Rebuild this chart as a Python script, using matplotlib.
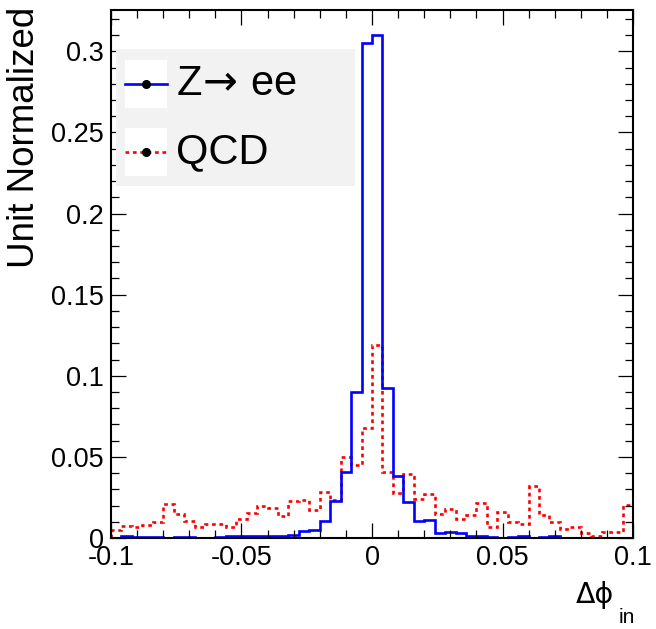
import matplotlib.pyplot as plt
import numpy as np
from matplotlib.patches import Rectangle
from matplotlib.lines import Line2D
from matplotlib.ticker import MultipleLocator, FormatStrFormatter

plt.rcParams['font.family'] = ['Liberation Sans', 'DejaVu Sans']
plt.rcParams['mathtext.fontset'] = 'dejavusans'

# 50 bins from -0.1 to 0.1
x_lo, x_hi, n_bins = -0.1, 0.1, 50

zee = [0.0003, 0.001, 0.0005, 0.0005, 0.0005, 0.0003, 0.0005, 0.0008, 0.0003, 0.0003,
       0.0008, 0.0015, 0.001, 0.001, 0.001, 0.001, 0.0014, 0.0017, 0.0045, 0.005,
       0.0102, 0.0227, 0.0406, 0.0899, 0.305, 0.31, 0.0926, 0.038, 0.0225, 0.0102,
       0.0108, 0.0033, 0.0036, 0.0033, 0.001, 0.001, 0.0005, 0.0002, 0.0005, 0.001,
       0.0003, 0.0005, 0.0015, 0.0002, 0.0002, 0.0002, 0.0002, 0.0002, 0.0002, 0.0002]

qcd = [0.0047, 0.0074, 0.0066, 0.0078, 0.010, 0.021, 0.0146, 0.0107, 0.007, 0.0084,
       0.0084, 0.007, 0.0115, 0.0152, 0.0197, 0.0183, 0.0137, 0.023, 0.0234, 0.0174,
       0.0285, 0.0233, 0.0502, 0.0453, 0.0677, 0.119, 0.0404, 0.028, 0.0397, 0.0242,
       0.0272, 0.0145, 0.018, 0.0118, 0.0143, 0.0214, 0.007, 0.0159, 0.0097, 0.0086,
       0.032, 0.0142, 0.0097, 0.0055, 0.0066, 0.0033, 0.0015, 0.0039, 0.0039, 0.0203]

edges = np.linspace(x_lo, x_hi, n_bins + 1)

fig = plt.figure(figsize=(6.56, 6.29), dpi=100)
ax = fig.add_axes([111/656, 1 - 538/629, 522/656, 528/629])

dots = (0, (1.4, 1.4))
ax.stairs(qcd, edges, color='red', lw=1.9, linestyle=dots)
ax.stairs(zee, edges, color='blue', lw=1.9)

ax.set_xlim(x_lo, x_hi)
ax.set_ylim(0, 0.3255)

ax.xaxis.set_major_locator(MultipleLocator(0.05))
ax.xaxis.set_minor_locator(MultipleLocator(0.01))
ax.yaxis.set_major_locator(MultipleLocator(0.05))
ax.yaxis.set_minor_locator(MultipleLocator(0.01))
ax.xaxis.set_major_formatter(FormatStrFormatter('%g'))
ax.yaxis.set_major_formatter(FormatStrFormatter('%g'))

ax.tick_params(which='both', direction='in', top=True, right=True,
               labelsize=19.5, width=0.9)
ax.tick_params(which='major', length=10.5, pad=5)
ax.tick_params(which='minor', length=5.5)
for s in ax.spines.values():
    s.set_linewidth(1.5)

fig.text(25/656, 1 - 7/629, 'Unit Normalized', rotation=90, ha='center', va='top',
         fontsize=26.5)
fig.text(576/656, 1 - 603/629, '\u0394\u03d5', ha='left', va='baseline', fontsize=20.5,
         family=['DejaVu Sans'])
fig.text(619/656, 1 - 623/629, 'in', ha='left', va='baseline', fontsize=15)

# legend box, drawn ROOT-style
fig.patches.append(Rectangle((116/656, 1 - 186/629), 239/656, 137/629,
                             transform=fig.transFigure, facecolor='#f2f2f2',
                             edgecolor='none', zorder=3))
entries = [('Z$\\!\\rightarrow\\!$ ee', 'blue', '-', 84), ('QCD', 'red', dots, 152)]
for label, col, ls, yc in entries:
    fig.patches.append(Rectangle((125/656, 1 - (yc + 24)/629), 42/656, 48/629,
                                 transform=fig.transFigure, facecolor='white',
                                 edgecolor='none', zorder=4))
    fig.lines.append(Line2D([125/656, 167/656], [1 - yc/629, 1 - yc/629],
                            transform=fig.transFigure, color=col, lw=1.9,
                            linestyle=ls, zorder=5))
    fig.lines.append(Line2D([146/656], [1 - yc/629], transform=fig.transFigure,
                            marker='o', markersize=5.5, color='black', zorder=6))
    fig.text(176/656, 1 - yc/629, label, ha='left', va='center', fontsize=30, zorder=6)

plt.savefig('out.png', dpi=100)
